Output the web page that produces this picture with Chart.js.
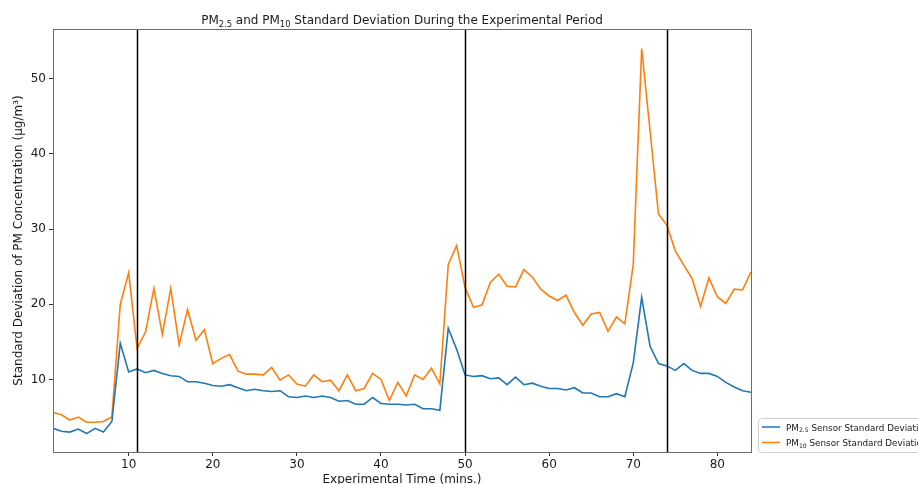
<!DOCTYPE html>
<html>
<head>
<meta charset="utf-8">
<script src="https://cdn.jsdelivr.net/npm/chart.js@4.4.1/dist/chart.umd.min.js"></script>
<style>
  html, body { margin: 0; padding: 0; background: #fff; }
  #wrap { width: 918px; height: 484px; position: relative; }
</style>
</head>
<body>
<div id="wrap"><canvas id="sdChart"></canvas></div>
<script>
// experimental minutes (x categories)
const minutes = [1, 2, 3, 4, 5, 6, 7, 8, 9, 10, 11, 12, 13, 14, 15, 16, 17, 18, 19, 20,
  21, 22, 23, 24, 25, 26, 27, 28, 29, 30, 31, 32, 33, 34, 35, 36, 37, 38, 39, 40,
  41, 42, 43, 44, 45, 46, 47, 48, 49, 50, 51, 52, 53, 54, 55, 56, 57, 58, 59, 60,
  61, 62, 63, 64, 65, 66, 67, 68, 69, 70, 71, 72, 73, 74, 75, 76, 77, 78, 79, 80,
  81, 82, 83, 84];

// PM2.5 sensor standard deviation
const pm25Std = [3.5, 3.1, 3.0, 3.4, 2.8, 3.5, 3.0, 4.4, 14.8, 11.0,
  11.4, 10.9, 11.2, 10.8, 10.5, 10.4, 9.7, 9.7, 9.5, 9.2,
  9.1, 9.3, 8.9, 8.5, 8.7, 8.5, 8.4, 8.5, 7.7, 7.6,
  7.8, 7.6, 7.8, 7.6, 7.1, 7.2, 6.7, 6.7, 7.6, 6.8,
  6.7, 6.7, 6.6, 6.7, 6.1, 6.1, 5.9, 16.8, 14.0, 10.6,
  10.4, 10.5, 10.1, 10.2, 9.3, 10.3, 9.3, 9.5, 9.1, 8.8,
  8.8, 8.6, 8.9, 8.2, 8.2, 7.7, 7.7, 8.1, 7.7, 12.2,
  20.9, 14.4, 12.1, 11.8, 11.2, 12.1, 11.2, 10.8, 10.8, 10.4,
  9.6, 9.0, 8.5, 8.3];

// PM10 sensor standard deviation
const pm10Std = [5.6, 5.3, 4.6, 5.0, 4.3, 4.3, 4.4, 5.0, 20.0, 24.2,
  14.1, 16.3, 22.1, 16.0, 22.1, 14.6, 19.3, 15.2, 16.6, 12.1,
  12.8, 13.3, 11.1, 10.7, 10.7, 10.6, 11.6, 9.9, 10.6, 9.4,
  9.1, 10.6, 9.7, 9.9, 8.5, 10.6, 8.5, 8.8, 10.8, 10.0,
  7.2, 9.6, 7.8, 10.6, 10.0, 11.5, 9.4, 25.3, 27.8, 22.2,
  19.6, 19.9, 22.9, 24.0, 22.4, 22.3, 24.6, 23.6, 22.0, 21.1,
  20.5, 21.2, 18.9, 17.2, 18.7, 18.9, 16.4, 18.3, 17.4, 25.3,
  54.0, 43.0, 32.0, 30.5, 27.1, 25.2, 23.4, 19.7, 23.5, 21.0,
  20.1, 22.0, 21.9, 24.3];

// phase boundaries (vertical lines)
const phaseMarks = [11, 50, 74];

const xTicks = [10, 20, 30, 40, 50, 60, 70, 80];
const yTicks = [10, 20, 30, 40, 50];

const FONT = '"DejaVu Sans", sans-serif';

// draw text made of parts, some of them subscripts
function richWidth(ctx, parts, size) {
    let w = 0;
    parts.forEach(p => {
        ctx.font = (p.sub ? size * 0.7 : size) + 'px ' + FONT;
        w += ctx.measureText(p.t).width;
    });
    return w;
}
function drawRich(ctx, parts, x, y, size) {
    let cx = x;
    parts.forEach(p => {
        ctx.font = (p.sub ? size * 0.7 : size) + 'px ' + FONT;
        ctx.fillText(p.t, cx, p.sub ? y + size * 0.22 : y);
        cx += ctx.measureText(p.t).width;
    });
}

const titleParts = [
    { t: 'PM' }, { t: '2.5', sub: true }, { t: ' and PM' }, { t: '10', sub: true },
    { t: ' Standard Deviation During the Experimental Period' }
];
const legendItems = [
    { color: '#1f77b4', parts: [{ t: 'PM' }, { t: '2.5', sub: true }, { t: ' Sensor Standard Deviation' }] },
    { color: '#ff7f0e', parts: [{ t: 'PM' }, { t: '10', sub: true }, { t: ' Sensor Standard Deviation' }] }
];

const decorPlugin = {
    id: 'decor',
    afterDatasetsDraw(chart) {
        const { ctx, chartArea: a, scales } = chart;
        ctx.save();
        // phase marker lines
        ctx.strokeStyle = '#000';
        ctx.lineWidth = 1.5;
        phaseMarks.forEach(m => {
            const px = Math.round(scales.x.getPixelForValue(m)) + 0.5;
            ctx.beginPath();
            ctx.moveTo(px, a.top);
            ctx.lineTo(px, a.bottom);
            ctx.stroke();
        });
        // frame
        ctx.strokeStyle = '#6e6e6e';
        ctx.lineWidth = 1;
        ctx.strokeRect(Math.round(a.left) + 0.5, Math.round(a.top) + 0.5,
            Math.round(a.right - a.left), Math.round(a.bottom - a.top));
        ctx.restore();
    },
    afterDraw(chart) {
        const { ctx, chartArea: a } = chart;
        ctx.save();
        ctx.fillStyle = '#1a1a1a';
        ctx.textBaseline = 'alphabetic';
        ctx.textAlign = 'left';
        // title
        const tSize = 12;
        const tw = richWidth(ctx, titleParts, tSize);
        drawRich(ctx, titleParts, (a.left + a.right) / 2 - tw / 2, 24, tSize);
        // x axis label
        ctx.font = '12px ' + FONT;
        ctx.textAlign = 'center';
        ctx.fillText('Experimental Time (mins.)', (a.left + a.right) / 2, 483);
        // y axis label
        ctx.save();
        ctx.translate(22, (a.top + a.bottom) / 2);
        ctx.rotate(-Math.PI / 2);
        ctx.fillText('Standard Deviation of PM Concentration (µg/m³)', 0, 0);
        ctx.restore();
        // legend
        const lx = a.right + 7, ly = 418, lw = 200, lh = 34;
        ctx.strokeStyle = '#d0d0d0';
        ctx.lineWidth = 1;
        ctx.beginPath();
        ctx.roundRect(lx + 0.5, ly + 0.5, lw, lh, 3);
        ctx.fillStyle = 'rgba(255,255,255,0.8)';
        ctx.fill();
        ctx.stroke();
        ctx.textAlign = 'left';
        legendItems.forEach((it, i) => {
            const ry = ly + 9 + i * 15.5;
            ctx.strokeStyle = it.color;
            ctx.lineWidth = 1.5;
            ctx.beginPath();
            ctx.moveTo(lx + 4, ry);
            ctx.lineTo(lx + 22, ry);
            ctx.stroke();
            ctx.fillStyle = '#1a1a1a';
            drawRich(ctx, it.parts, lx + 28, ry + 3.5, 8.8);
        });
        ctx.restore();
    }
};

new Chart(document.getElementById('sdChart'), {
    type: 'line',
    data: {
        datasets: [
            {
                label: 'PM2.5 Sensor Standard Deviation',
                data: minutes.map((m, i) => ({ x: m, y: pm25Std[i] })),
                borderColor: '#1f77b4',
                borderWidth: 1.6,
                pointRadius: 0,
                tension: 0
            },
            {
                label: 'PM10 Sensor Standard Deviation',
                data: minutes.map((m, i) => ({ x: m, y: pm10Std[i] })),
                borderColor: '#ff7f0e',
                borderWidth: 1.6,
                pointRadius: 0,
                tension: 0
            }
        ]
    },
    options: {
        responsive: true,
        maintainAspectRatio: false,
        animation: false,
        layout: { padding: { left: 0, right: 167, top: 29, bottom: 0 } },
        plugins: {
            legend: { display: false },
            title: { display: false },
            tooltip: { enabled: false }
        },
        scales: {
            x: {
                type: 'linear',
                min: 1,
                max: 84,
                afterFit: s => { s.height = 32; },
                afterBuildTicks: s => { s.ticks = xTicks.map(v => ({ value: v })); },
                grid: { drawOnChartArea: false, tickLength: 4, color: '#333', tickWidth: 1 },
                border: { display: false },
                ticks: { color: '#1a1a1a', font: { family: 'DejaVu Sans', size: 12 }, padding: 2, maxRotation: 0 }
            },
            y: {
                min: 0.35,
                max: 56.6,
                afterFit: s => { s.width = 53; },
                afterBuildTicks: s => { s.ticks = yTicks.map(v => ({ value: v })); },
                grid: { drawOnChartArea: false, tickLength: 4, color: '#333', tickWidth: 1 },
                border: { display: false },
                ticks: { color: '#1a1a1a', font: { family: 'DejaVu Sans', size: 12 }, padding: 3 }
            }
        }
    },
    plugins: [decorPlugin]
});
</script>
</body>
</html>
